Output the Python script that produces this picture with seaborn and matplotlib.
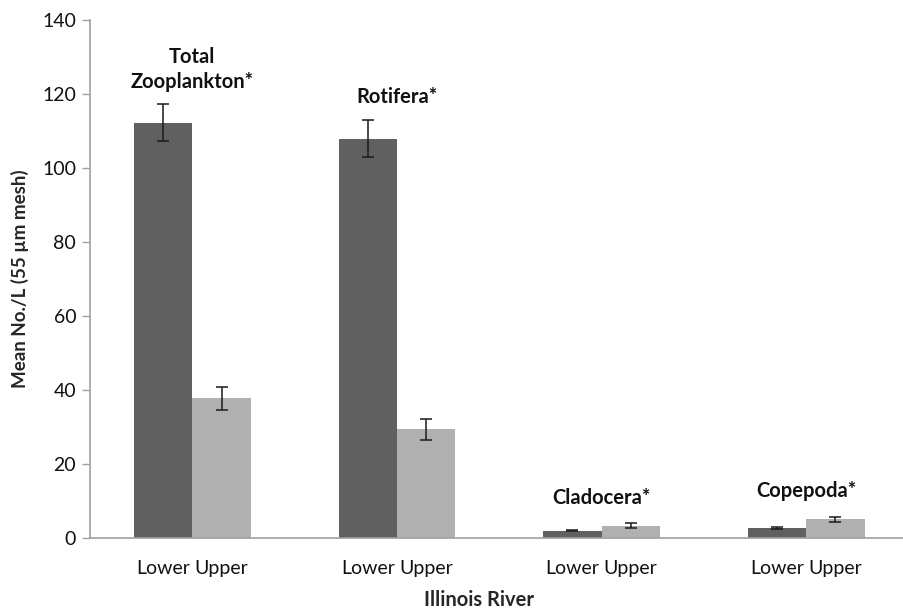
import pandas as pd
import numpy as np
import seaborn as sns
import matplotlib.pyplot as plt

# values
groups = ["Total Zooplankton", "Rotifera", "Cladocera", "Copepoda"]
labels = ["Total\nZooplankton*", "Rotifera*", "Cladocera*", "Copepoda*"]
label_y = [120.5, 116.5, 8.0, 10.0]
reaches = ["Lower", "Upper"]
lower_mean = [112.3, 108.0, 2.0, 2.7]
lower_err = [5.1, 5.0, 0.2, 0.2]
upper_mean = [37.8, 29.4, 3.3, 5.1]
upper_err = [3.1, 2.9, 0.7, 0.7]

df = pd.DataFrame({
    "group": groups * 2,
    "reach": ["Lower"] * 4 + ["Upper"] * 4,
    "mean": lower_mean + upper_mean,
    "err": lower_err + upper_err,
})

sns.set_style("white")
plt.rcParams['font.family'] = ['Lato', 'DejaVu Sans']
plt.rcParams['text.color'] = '#111111'
plt.rcParams['xtick.labelcolor'] = '#111111'
plt.rcParams['ytick.labelcolor'] = '#111111'

fig = plt.figure(figsize=(9.04, 6.11), dpi=100)
ax = fig.add_axes([0.0996, 0.1195, 0.9054, 0.8475])

sns.barplot(data=df, x="group", y="mean", hue="reach", order=groups,
            hue_order=reaches, palette=["#606060", "#b0b0b0"],
            width=0.57, errorbar=None, saturation=1, linewidth=0, ax=ax)
ax.get_legend().remove()

# error bars and per-bar tick labels
centers = []
for i, r in enumerate(reaches):
    sub = df[df.reach == r].set_index("group").loc[groups]
    xs = [p.get_x() + p.get_width() / 2 for p in ax.containers[i]]
    centers += [(x, r) for x in xs]
    ax.errorbar(xs, sub["mean"], yerr=sub["err"], fmt="none",
                ecolor="#1a1a1a", elinewidth=1.1, capsize=4, capthick=1.1)

for i, (lab, y) in enumerate(zip(labels, label_y)):
    ax.text(i, y, lab, ha="center", va="bottom", fontsize=14.5,
            fontweight="bold", linespacing=1.3)

centers.sort()
ax.set_xticks([c[0] for c in centers])
ax.set_xticklabels([c[1] for c in centers], fontsize=14)
ax.set_xticks(np.arange(-0.5, 4.0, 1.0), minor=True)
ax.tick_params(axis="x", which="major", length=0, pad=16)
ax.tick_params(axis="x", which="minor", length=6, color="#a0a0a0", width=1)
ax.set_xlim(-0.5, 3.5)

ax.set_ylim(0, 140)
ax.set_yticks(range(0, 141, 20))
ax.tick_params(axis="y", labelsize=14, length=6, color="#a0a0a0", width=1, pad=4)
ax.tick_params(left=True)

for s in ["top", "right"]:
    ax.spines[s].set_visible(False)
for s in ["left", "bottom"]:
    ax.spines[s].set_color("#a0a0a0")
    ax.spines[s].set_linewidth(1.2)

ax.set_xlabel("Illinois River", fontsize=14.5, fontweight="bold")
ax.xaxis.set_label_coords(0.475, -0.1)
ax.set_ylabel("Mean No./L (55 µm mesh)", fontsize=13.5, fontweight="bold")
ax.yaxis.set_label_coords(-0.074, 0.5)

fig.savefig("out.png", dpi=100)
